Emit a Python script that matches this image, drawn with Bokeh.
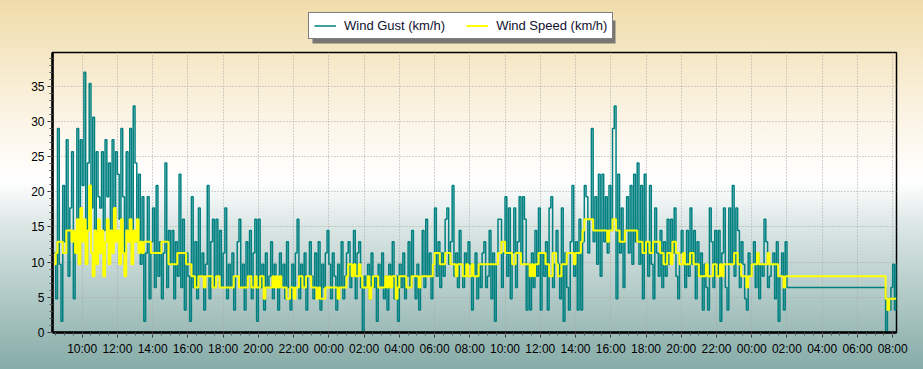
import pandas as pd
from bokeh.plotting import figure
from bokeh.layouts import column
from bokeh.models import (Range1d, FixedTicker, DatetimeTickFormatter, Legend,
                          LegendItem, ColumnDataSource, BoxAnnotation)
from bokeh.embed import file_html
from bokeh.resources import INLINE

# ---- data (km/h), 6-minute samples ----
main_start = "2024-03-05 08:24"   # first sample of the continuous record
tail_start = "2024-03-07 07:30"   # first sample after the data gap
sample_step = "6min"

gust_main = [
    11.3, 4.8, 29.0, 9.7, 1.6, 20.9,                          # 08:24-08:54
    12.9, 27.4, 8.0, 17.7, 25.7, 4.8, 14.5, 29.0, 9.7, 27.4,  # 09
    20.9, 37.0, 9.7, 24.1, 35.4, 17.7, 30.6, 14.5, 25.7, 19.3,  # 10
    17.7, 25.7, 14.5, 27.4, 19.3, 24.1, 12.9, 27.4, 16.1, 25.7,  # 11
    22.5, 16.1, 29.0, 19.3, 9.7, 25.7, 14.5, 29.0, 11.3, 32.2,  # 12
    24.1, 12.9, 22.5, 9.7, 19.3, 1.6, 11.3, 19.3, 4.8, 12.9,  # 13
    17.7, 6.4, 20.9, 8.0, 12.9, 4.8, 11.3, 24.1, 6.4, 14.5,   # 14
    9.7, 14.5, 4.8, 12.9, 8.0, 22.5, 6.4, 16.1, 3.2, 11.3,    # 15
    8.0, 1.6, 19.3, 6.4, 12.9, 4.8, 17.7, 8.0, 11.3, 3.2,     # 16
    9.7, 20.9, 4.8, 12.9, 16.1, 6.4, 16.1, 8.0, 14.5, 6.4,    # 17
    11.3, 17.7, 4.8, 9.7, 6.4, 11.3, 3.2, 8.0, 12.9, 16.1,    # 18
    6.4, 9.7, 3.2, 12.9, 8.0, 14.5, 4.8, 11.3, 16.1, 1.6,     # 19
    16.1, 6.4, 9.7, 3.2, 11.3, 6.4, 8.0, 12.9, 4.8, 9.7,      # 20
    8.0, 3.2, 11.3, 6.4, 9.7, 4.8, 12.9, 6.4, 3.2, 9.7,       # 21
    6.4, 11.3, 16.1, 4.8, 9.7, 6.4, 11.3, 3.2, 8.0, 12.9,     # 22
    8.0, 4.8, 11.3, 6.4, 12.9, 3.2, 9.7, 6.4, 11.3, 14.5,     # 23
    9.7, 4.8, 11.3, 8.0, 3.2, 9.7, 6.4, 12.9, 4.8, 8.0,       # 00
    11.3, 12.9, 6.4, 9.7, 14.5, 4.8, 11.3, 12.9, 6.4, 0.0,    # 01
    8.0, 6.4, 9.7, 4.8, 11.3, 6.4, 8.0, 1.6, 9.7, 6.4,        # 02
    11.3, 4.8, 8.0, 3.2, 9.7, 6.4, 12.9, 4.8, 8.0, 1.6,       # 03
    9.7, 6.4, 11.3, 4.8, 8.0, 12.9, 6.4, 14.5, 8.0, 4.8,      # 04
    9.7, 3.2, 8.0, 14.5, 6.4, 16.1, 8.0, 11.3, 4.8, 9.7,      # 05
    17.7, 8.0, 12.9, 6.4, 11.3, 8.0, 16.1, 17.7, 9.7, 12.9,   # 06
    20.9, 8.0, 11.3, 6.4, 14.5, 9.7, 6.4, 11.3, 8.0, 12.9,    # 07
    9.7, 3.2, 8.0, 11.3, 4.8, 9.7, 6.4, 11.3, 12.9, 6.4,      # 08
    8.0, 14.5, 4.8, 11.3, 1.6, 9.7, 16.1, 16.1, 6.4, 11.3,    # 09
    19.3, 8.0, 17.7, 4.8, 11.3, 17.7, 6.4, 12.9, 19.3, 9.7,   # 10
    19.3, 16.1, 3.2, 9.7, 3.2, 11.3, 6.4, 14.5, 8.0, 17.7,    # 11
    3.2, 11.3, 8.0, 12.9, 3.2, 17.7, 19.3, 6.4, 9.7, 14.5,    # 12
    9.7, 4.8, 17.7, 1.6, 11.3, 6.4, 3.2, 12.9, 20.9, 8.0,     # 13
    12.9, 3.2, 16.1, 3.2, 12.9, 20.9, 19.3, 11.3, 16.1, 29.0, # 14
    12.9, 19.3, 9.7, 22.5, 8.0, 22.5, 12.9, 19.3, 11.3, 20.9, # 15
    14.5, 29.0, 32.2, 4.8, 22.5, 11.3, 17.7, 6.4, 14.5, 19.3, # 16
    11.3, 20.9, 9.7, 22.5, 12.9, 24.1, 9.7, 20.9, 4.8, 22.5,  # 17
    12.9, 8.0, 20.9, 9.7, 4.8, 17.7, 11.3, 8.0, 14.5, 6.4,    # 18
    12.9, 8.0, 16.1, 9.7, 16.1, 11.3, 17.7, 8.0, 4.8, 11.3,   # 19
    14.5, 9.7, 6.4, 14.5, 8.0, 17.7, 9.7, 14.5, 4.8, 12.9,    # 20
    8.0, 11.3, 3.2, 9.7, 6.4, 3.2, 17.7, 12.9, 6.4, 14.5,     # 21
    8.0, 14.5, 1.6, 11.3, 17.7, 6.4, 3.2, 17.7, 9.7, 20.9,    # 22
    8.0, 17.7, 14.5, 6.4, 12.9, 9.7, 4.8, 3.2, 11.3, 8.0,     # 23
    9.7, 12.9, 6.4, 11.3, 4.8, 9.7, 8.0, 16.1, 12.9, 6.4,     # 00
    8.0, 9.7, 11.3, 4.8, 12.9, 1.6, 8.0, 11.3, 3.2, 12.9,     # 01
    6.4,                                                      # 02:00
]

speed_main = [
    9.7, 11.3, 12.9, 12.9, 12.9, 11.3,                        # 08:24-08:54
    11.3, 14.5, 14.5, 14.5, 12.9, 14.5, 11.3, 16.1, 9.7, 17.7,  # 09
    12.9, 16.1, 9.7, 14.5, 20.9, 11.3, 8.0, 14.5, 9.7, 16.1,  # 10
    11.3, 14.5, 8.0, 12.9, 16.1, 9.7, 14.5, 11.3, 17.7, 12.9,  # 11
    14.5, 9.7, 16.1, 11.3, 8.0, 14.5, 12.9, 16.1, 9.7, 14.5,  # 12
    12.9, 16.1, 11.3, 12.9, 11.3, 12.9, 12.9, 12.9, 12.9, 11.3,  # 13
    11.3, 11.3, 11.3, 11.3, 11.3, 12.9, 12.9, 12.9, 12.9, 9.7,  # 14
    9.7, 9.7, 9.7, 9.7, 11.3, 11.3, 11.3, 11.3, 11.3, 9.7,    # 15
    9.7, 9.7, 8.0, 8.0, 6.4, 6.4, 8.0, 8.0, 8.0, 6.4,         # 16
    8.0, 8.0, 8.0, 8.0, 6.4, 6.4, 8.0, 8.0, 6.4, 6.4,         # 17
    6.4, 6.4, 6.4, 6.4, 6.4, 6.4, 8.0, 8.0, 8.0, 6.4,         # 18
    6.4, 6.4, 6.4, 6.4, 8.0, 8.0, 6.4, 6.4, 8.0, 6.4,         # 19
    6.4, 8.0, 8.0, 4.8, 6.4, 6.4, 6.4, 6.4, 8.0, 6.4,         # 20
    8.0, 6.4, 8.0, 6.4, 6.4, 6.4, 4.8, 4.8, 6.4, 6.4,         # 21
    4.8, 6.4, 6.4, 8.0, 8.0, 6.4, 6.4, 8.0, 8.0, 8.0,         # 22
    6.4, 6.4, 6.4, 4.8, 6.4, 4.8, 4.8, 4.8, 6.4, 6.4,         # 23
    6.4, 6.4, 6.4, 6.4, 6.4, 4.8, 6.4, 6.4, 6.4, 6.4,         # 00
    8.0, 9.7, 9.7, 8.0, 9.7, 8.0, 8.0, 9.7, 8.0, 6.4,         # 01
    6.4, 6.4, 8.0, 4.8, 6.4, 8.0, 8.0, 8.0, 6.4, 6.4,         # 02
    6.4, 6.4, 8.0, 6.4, 8.0, 6.4, 8.0, 8.0, 4.8, 6.4,         # 03
    8.0, 8.0, 8.0, 8.0, 6.4, 6.4, 6.4, 8.0, 8.0, 8.0,         # 04
    8.0, 6.4, 8.0, 8.0, 8.0, 8.0, 8.0, 8.0, 8.0, 9.7,         # 05
    11.3, 11.3, 11.3, 9.7, 9.7, 9.7, 11.3, 11.3, 11.3, 9.7,   # 06
    9.7, 9.7, 8.0, 9.7, 9.7, 9.7, 8.0, 8.0, 9.7, 8.0,         # 07
    8.0, 9.7, 8.0, 8.0, 8.0, 9.7, 9.7, 9.7, 9.7, 9.7,         # 08
    9.7, 9.7, 9.7, 9.7, 9.7, 9.7, 11.3, 11.3, 12.9, 12.9,     # 09
    11.3, 11.3, 11.3, 11.3, 9.7, 9.7, 11.3, 11.3, 11.3, 9.7,  # 10
    9.7, 9.7, 9.7, 9.7, 8.0, 9.7, 8.0, 9.7, 9.7, 11.3,        # 11
    11.3, 11.3, 11.3, 9.7, 9.7, 8.0, 8.0, 11.3, 11.3, 9.7,    # 12
    8.0, 8.0, 9.7, 9.7, 9.7, 11.3, 11.3, 11.3, 11.3, 9.7,     # 13
    11.3, 11.3, 11.3, 12.9, 14.5, 16.1, 16.1, 16.1, 16.1, 16.1,  # 14
    14.5, 14.5, 14.5, 14.5, 14.5, 14.5, 14.5, 14.5, 12.9, 14.5,  # 15
    14.5, 16.1, 16.1, 14.5, 14.5, 12.9, 12.9, 12.9, 14.5, 14.5,  # 16
    14.5, 14.5, 14.5, 14.5, 14.5, 12.9, 12.9, 12.9, 11.3, 11.3,  # 17
    12.9, 12.9, 11.3, 11.3, 12.9, 12.9, 12.9, 12.9, 11.3, 11.3,  # 18
    9.7, 9.7, 11.3, 11.3, 9.7, 12.9, 12.9, 11.3, 11.3, 9.7,   # 19
    9.7, 11.3, 9.7, 9.7, 9.7, 11.3, 11.3, 9.7, 9.7, 9.7,      # 20
    8.0, 8.0, 8.0, 8.0, 9.7, 8.0, 8.0, 8.0, 9.7, 9.7,         # 21
    8.0, 8.0, 9.7, 8.0, 9.7, 9.7, 9.7, 9.7, 9.7, 9.7,         # 22
    11.3, 11.3, 9.7, 9.7, 8.0, 8.0, 8.0, 6.4, 8.0, 8.0,       # 23
    9.7, 9.7, 9.7, 11.3, 9.7, 9.7, 9.7, 9.7, 9.7, 11.3,       # 00
    9.7, 9.7, 9.7, 9.7, 9.7, 8.0, 8.0, 8.0, 6.4, 8.0,         # 01
    8.0,                                                      # 02:00
]

gust_tail = [6.4, 0.0, 4.8, 3.2, 6.4, 9.7, 3.2, 9.7]
speed_tail = [8.0, 4.8, 3.2, 4.8, 4.8, 4.8, 4.8, 4.8]

series_labels = ["Wind Gust (km/h)", "Wind Speed (km/h)"]
x_start, x_end = "2024-03-05 08:19", "2024-03-07 08:13"
y_start, y_end = 0, 39.8
y_major = [0, 5, 10, 15, 20, 25, 30, 35]

GUST_C, SPEED_C = "#008080", "#FFFF00"
GUST_W, SPEED_W = 1.5, 2.0

# ---- build sources ----
def times_for(start, n):
    return list(pd.date_range(start, periods=n, freq=sample_step))

g_t = times_for(main_start, len(gust_main)) + times_for(tail_start, len(gust_tail))
s_t = times_for(main_start, len(speed_main)) + times_for(tail_start, len(speed_tail))
gust_src = ColumnDataSource(dict(t=g_t, v=gust_main + gust_tail))
speed_src = ColumnDataSource(dict(t=s_t, v=speed_main + speed_tail))

W, H = 923, 369
TOP_H = 50
B_LEFT, B_RIGHT, B_BOTTOM = 52, 27, 37
FRAME_W = W - B_LEFT - B_RIGHT

# ---- legend strip (top); its frame is aligned with the chart frame ----
top = figure(width=W, height=TOP_H, output_backend="svg", toolbar_location=None,
             title=None, x_axis_type=None, y_axis_type=None,
             x_range=Range1d(0, FRAME_W), y_range=Range1d(0, TOP_H),
             min_border=0, min_border_left=B_LEFT, min_border_right=B_RIGHT,
             min_border_top=0, min_border_bottom=0)
top.border_fill_alpha = 0
top.background_fill_alpha = 0
top.outline_line_color = None
top.xgrid.visible = False
top.ygrid.visible = False
dg = top.line(x=[-20, -10], y=[-20, -20], line_color=GUST_C, line_width=GUST_W)
ds = top.line(x=[-20, -10], y=[-20, -20], line_color=SPEED_C, line_width=SPEED_W)

LEG_X, LEG_Y = 256, 11
top.add_layout(BoxAnnotation(left=LEG_X + 4, right=LEG_X + 4 + 303,
                             bottom=LEG_Y - 4, top=LEG_Y - 4 + 23,
                             fill_color="#6a6a6a", fill_alpha=0.9, line_color=None,
                             level="annotation"))
legend = Legend(items=[LegendItem(label=series_labels[0], renderers=[dg]),
                       LegendItem(label=series_labels[1], renderers=[ds])],
                location=(LEG_X, LEG_Y), orientation="horizontal", margin=0, padding=5,
                spacing=21, label_standoff=8, glyph_width=22, glyph_height=13,
                label_height=13, label_text_font="Liberation Sans",
                label_text_font_size="13px", label_text_color="#101030",
                background_fill_color="white", background_fill_alpha=1,
                border_line_color="black", border_line_width=1)
top.add_layout(legend)

# ---- main chart ----
p = figure(width=W, height=H - TOP_H, x_axis_type="datetime", output_backend="svg",
           toolbar_location=None, title=None,
           x_range=Range1d(pd.Timestamp(x_start), pd.Timestamp(x_end)),
           y_range=Range1d(y_start, y_end),
           min_border_left=B_LEFT, min_border_right=B_RIGHT, min_border_top=2,
           min_border_bottom=B_BOTTOM)
p.border_fill_alpha = 0
p.background_fill_alpha = 0
p.outline_line_color = "black"
p.outline_line_width = 1.5

def ms(ts):
    return [t.value / 1e6 for t in ts]

major_t = pd.date_range("2024-03-05 10:00", "2024-03-07 08:00", freq="2h")
minor_t = pd.date_range("2024-03-05 08:30", "2024-03-07 08:00", freq="30min")
p.xaxis.ticker = FixedTicker(ticks=ms(major_t), minor_ticks=ms(minor_t))
fmt = "%H:%M"
p.xaxis.formatter = DatetimeTickFormatter(microseconds=fmt, milliseconds=fmt, seconds=fmt,
                                          minsec=fmt, minutes=fmt, hourmin=fmt, hours=fmt,
                                          days=fmt, months=fmt, years=fmt)
p.yaxis.ticker = FixedTicker(ticks=y_major, minor_ticks=list(range(0, 40)))

for ax in (p.xaxis[0], p.yaxis[0]):
    ax.axis_line_width = 2.5
    ax.axis_line_color = "black"
    ax.major_tick_line_color = "#333333"
    ax.minor_tick_line_color = "#555555"
    ax.major_tick_in = 0
    ax.major_tick_out = 5
    ax.minor_tick_in = 0
    ax.minor_tick_out = 3
    ax.major_label_text_font = "Liberation Sans"
    ax.major_label_text_font_size = "12px"
    ax.major_label_text_color = "black"
p.yaxis.major_label_standoff = 3
p.xaxis.major_label_standoff = 4

for g in (p.xgrid[0], p.ygrid[0]):
    g.grid_line_color = "#a8a8a8"
    g.grid_line_dash = "1 2"
    g.grid_line_width = 1

p.step(x="t", y="v", source=gust_src, mode="after", line_color=GUST_C, line_width=GUST_W)
p.step(x="t", y="v", source=speed_src, mode="after", line_color=SPEED_C, line_width=SPEED_W)

layout = column(top, p, spacing=0)
layout.styles = {"background": "linear-gradient(to bottom, #F0DCAA 0%, #FBF3E2 30%, "
                               "#FFFFFF 49%, #D9E5E3 62%, #86ACA8 100%)"}

open("out.html", "w").write(file_html(layout, INLINE))
